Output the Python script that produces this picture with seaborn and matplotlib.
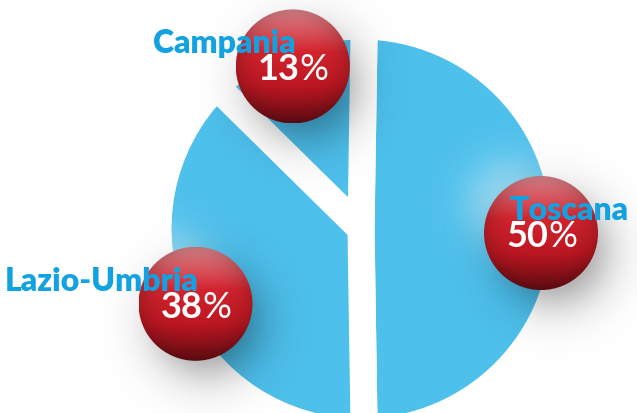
import numpy as np
import matplotlib.pyplot as plt
from matplotlib.patches import Circle
import seaborn as sns

# -----------------------------
# DATA
# -----------------------------
regions = ["Toscana", "Lazio-Umbria", "Campania"]
shares = [50, 38, 13]

# -----------------------------
# LAYOUT (pixels, y pointing up)
# -----------------------------
W, H = 637, 414
PIE_X, PIE_Y, PIE_R = 361, 184, 203
GAP = 19.5            # white gap between slices, in points
BALL_R = 57
BALL_DIST = 180
BALL_DROP = 4

PIE_BLUE = "#4dc0ec"
LABEL_BLUE = "#12a2e2"

sns.set_theme(style="white")
plt.rcParams['font.family'] = ['Lato', 'DejaVu Sans']

fig = plt.figure(figsize=(W / 100, H / 100), dpi=100)
ax = fig.add_axes([0, 0, 1, 1])

wedges, _ = ax.pie(
    shares,
    startangle=89.1,
    counterclock=False,
    colors=sns.color_palette([PIE_BLUE] * len(shares)),
    center=(PIE_X, PIE_Y),
    radius=PIE_R,
    wedgeprops=dict(edgecolor='white', linewidth=GAP, joinstyle='round'),
)
ax.set_xlim(0, W)
ax.set_ylim(0, H)
ax.set_aspect('equal')
ax.axis('off')


def ball_colors(n=200):
    # vertical shading: light top, bright red middle, dark bottom
    v = np.linspace(-1, 1, n)[:, None] * np.ones((1, n))
    u = np.linspace(-1, 1, n)[None, :] * np.ones((n, 1))
    stops = [-1.0, -0.35, 0.25, 1.0]
    r = np.interp(v, stops, [0.42, 0.74, 0.83, 0.91])
    g = np.interp(v, stops, [0.05, 0.09, 0.14, 0.55])
    b = np.interp(v, stops, [0.08, 0.13, 0.18, 0.58])
    rim = 1 - 0.18 * np.clip(u ** 2 + v ** 2, 0, 1) ** 2
    return np.dstack([r * rim, g * rim, b * rim])


def soft_disc(cx, cy, rad, soft, color, alpha, z):
    n = 300
    ext = rad + 5 * soft
    xs = np.linspace(cx - ext, cx + ext, n)
    ys = np.linspace(cy - ext, cy + ext, n)
    X, Y = np.meshgrid(xs, ys)
    d = np.hypot(X - cx, Y - cy)
    a = alpha / (1 + np.exp((d - rad) / soft))
    img = np.zeros((n, n, 4))
    img[..., :3] = color
    img[..., 3] = a
    ax.imshow(img, extent=[cx - ext, cx + ext, cy - ext, cy + ext],
              origin='lower', zorder=z, interpolation='bilinear')


shade = ball_colors()
for w, name, val in zip(wedges, regions, shares):
    mid = np.deg2rad((w.theta1 + w.theta2) / 2)
    cx = PIE_X + BALL_DIST * np.cos(mid)
    cy = PIE_Y + BALL_DIST * np.sin(mid) - BALL_DROP

    # glow on the pie and drop shadow under the ball
    soft_disc(cx - 30, cy + 30, 40, 12, (1, 1, 1), 0.45, 2)
    soft_disc(cx + 12, cy - 18, BALL_R * 0.85, 14, (0, 0, 0), 0.42, 3)

    im = ax.imshow(shade, extent=[cx - BALL_R, cx + BALL_R, cy - BALL_R, cy + BALL_R],
                   origin='lower', zorder=4, interpolation='bilinear')
    im.set_clip_path(Circle((cx, cy), BALL_R, transform=ax.transData))

    # region name
    if np.cos(mid) < 0:
        ax.text(cx + 3, cy + 14, name, ha='right', va='baseline', fontsize=23,
                fontweight='heavy', color=LABEL_BLUE, zorder=6)
    else:
        ax.text(cx - 31, cy + 14, name, ha='left', va='baseline', fontsize=23,
                fontweight='heavy', color=LABEL_BLUE, zorder=6)

    # percentage: bold digits, thin percent sign
    ax.text(cx + 7, cy - 13, f"{val}", ha='right', va='baseline', fontsize=26,
            fontweight='bold', color='white', zorder=5)
    ax.text(cx + 7, cy - 13, "%", ha='left', va='baseline', fontsize=26,
            fontweight='normal', color='white', zorder=5)

fig.savefig("out.png", dpi=100)
